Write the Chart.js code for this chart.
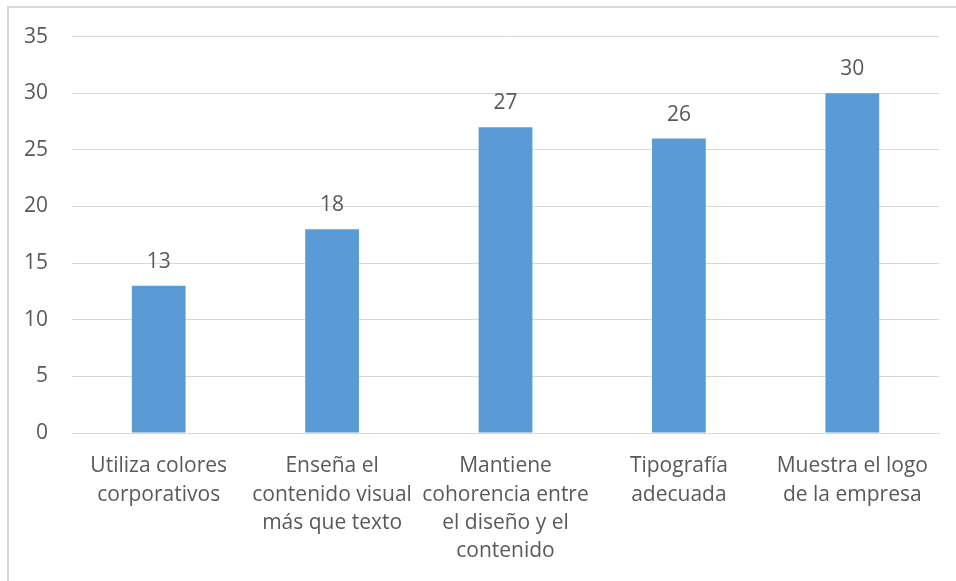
<!DOCTYPE html>
<html lang="es">
<head>
    <meta charset="UTF-8">
    <title>Gráfico de barras</title>
    <script src="https://cdn.jsdelivr.net/npm/chart.js@4/dist/chart.umd.min.js"></script>
    <style>
        body { margin: 0; background: #fff; overflow: hidden; }
        .frame { position: absolute; left: 7px; top: 6px; width: 980px; height: 620px; border: 2px solid #d9d9d9; }
        .chart-box { position: absolute; left: 0; top: 0; width: 956px; height: 581px; }
    </style>
</head>
<body>
    <div class="frame"></div>
    <div class="chart-box">
        <canvas id="chart" width="956" height="581"></canvas>
    </div>

    <script>
        const categories = [
            ['Utiliza colores', 'corporativos'],
            ['Enseña el', 'contenido visual', 'más que texto'],
            ['Mantiene', 'cohorencia entre', 'el diseño y el', 'contenido'],
            ['Tipografía', 'adecuada'],
            ['Muestra el logo', 'de la empresa']
        ];
        const values = [13, 18, 27, 26, 30];
        const yTicks = [0, 5, 10, 15, 20, 25, 30, 35];

        const textColor = '#595959';
        const fontFamily = "'Open Sans', sans-serif";

        // value labels above each bar
        const barLabels = {
            id: 'barLabels',
            afterDatasetsDraw(chart) {
                const ctx = chart.ctx;
                const meta = chart.getDatasetMeta(0);
                ctx.save();
                ctx.fillStyle = textColor;
                ctx.font = '21px ' + fontFamily;
                ctx.textAlign = 'center';
                ctx.textBaseline = 'middle';
                meta.data.forEach((bar, i) => {
                    ctx.fillText(values[i], bar.x, bar.y - 24);
                });
                ctx.restore();
            }
        };

        new Chart(document.getElementById('chart'), {
            type: 'bar',
            data: {
                labels: categories,
                datasets: [{
                    data: values,
                    backgroundColor: '#5b9bd5',
                    categoryPercentage: 1,
                    barPercentage: 0.31
                }]
            },
            options: {
                responsive: false,
                animation: false,
                layout: { padding: { top: 28, right: 17, left: 0, bottom: 0 } },
                plugins: {
                    legend: { display: false },
                    tooltip: { enabled: false }
                },
                scales: {
                    x: {
                        grid: { display: false, drawTicks: false },
                        border: { color: '#d9d9d9', width: 1 },
                        ticks: {
                            color: textColor,
                            font: { family: fontFamily, size: 21, lineHeight: 1.35 },
                            padding: 19,
                            maxRotation: 0,
                            autoSkip: false
                        },
                        afterFit(scale) { scale.height = 148; }
                    },
                    y: {
                        min: 0,
                        max: 35,
                        afterBuildTicks(scale) { scale.ticks = yTicks.map(v => ({ value: v })); },
                        grid: { color: '#d9d9d9', drawTicks: false },
                        border: { display: false },
                        ticks: {
                            color: textColor,
                            font: { family: fontFamily, size: 21 },
                            padding: 24
                        },
                        afterFit(scale) { scale.width = 72; }
                    }
                }
            },
            plugins: [barLabels]
        });
    </script>
</body>
</html>
